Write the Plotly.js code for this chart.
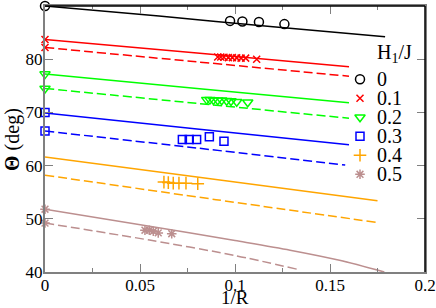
<!DOCTYPE html>
<html><head><meta charset="utf-8">
<script src="https://cdn.plot.ly/plotly-3.0.1.min.js"></script>
<style>html,body{margin:0;padding:0;background:#fff}#c{width:436px;height:308px}</style>
</head><body><div id="c"></div>
<script>
// ---- data ----
const h1Labels = ['0', '0.1', '0.2', '0.3', '0.4', '0.5'];
const colors = ['#000000', '#ff0000', '#00ff00', '#0000ff', '#ffa500', '#bc8f8f'];
const symbols = ['circle-open', 'x-thin-open', 'triangle-down-open', 'square-open', 'cross-thin-open', 'asterisk-open'];

// simulation points (1/R, Theta)
const simX0 = [0, 0.0974, 0.1039, 0.1126, 0.126];
const simY0 = [90, 87.2, 87.1, 87.0, 86.6];
const simX1 = [0, 0, 0.0909, 0.0925, 0.0942, 0.0965, 0.0986, 0.1009, 0.1032, 0.1056, 0.1114];
const simY1 = [83.7, 82.2, 80.4, 80.4, 80.35, 80.3, 80.3, 80.25, 80.2, 80.2, 80.0];
const simX2 = [0, 0, 0.0851, 0.0868, 0.0886, 0.0909, 0.0930, 0.0956, 0.0979, 0.1009, 0.1067];
const simY2 = [77.2, 74.5, 72.4, 72.4, 72.35, 72.3, 72.3, 72.2, 72.15, 72.0, 71.9];
const simX3 = [0, 0, 0.0723, 0.0759, 0.0798, 0.0865, 0.0942];
const simY3 = [70.0, 66.5, 64.9, 64.9, 64.9, 65.4, 64.6];
const simX4 = [0.0626, 0.0649, 0.0675, 0.0705, 0.0742, 0.0804];
const simY4 = [56.9, 56.8, 56.7, 56.7, 56.7, 56.6];
const simX5 = [0, 0, 0.0526, 0.0549, 0.0570, 0.0596, 0.0667];
const simY5 = [51.8, 49.2, 47.85, 47.85, 47.65, 47.35, 47.2];

// theory curves: solid
const solX0 = [0, 0.06, 0.12, 0.179];   const solY0 = [90, 88.1, 86.1, 84.2];
const solX1 = [0, 0.08, 0.16];          const solY1 = [83.7, 81.15, 78.6];
const solX2 = [0, 0.08, 0.16];          const solY2 = [77.2, 74.5, 71.8];
const solX3 = [0, 0.08, 0.16];          const solY3 = [69.9, 66.9, 63.9];
const solX4 = [0, 0.09, 0.175];         const solY4 = [61.6, 57.4, 53.4];
const solX5 = [0, 0.055, 0.1, 0.129, 0.155, 0.1786]; const solY5 = [51.8, 48.6, 45.9, 44.1, 42.2, 40.0];
// theory curves: dashed
const dasX1 = [0, 0.08, 0.16];          const dasY1 = [82.2, 79.5, 76.8];
const dasX2 = [0, 0.08, 0.16];          const dasY2 = [74.5, 71.7, 68.9];
const dasX3 = [0, 0.08, 0.158];         const dasY3 = [66.5, 63.3, 60.1];
const dasX4 = [0, 0.09, 0.175];         const dasY4 = [58.2, 53.6, 49.3];
const dasX5 = [0, 0.055, 0.1, 0.133];   const dasY5 = [49.2, 46.0, 43.1, 40.5];

const xTicks = [0, 0.05, 0.1, 0.15, 0.2];
const xTickText = ['0', '0.05', '0.1', '0.15', '0.2'];
const yTicks = [40, 50, 60, 70, 80, 90];

// ---- build ----
const solids = [[solX0, solY0], [solX1, solY1], [solX2, solY2], [solX3, solY3], [solX4, solY4], [solX5, solY5]];
const dashes = [null, [dasX1, dasY1], [dasX2, dasY2], [dasX3, dasY3], [dasX4, dasY4], [dasX5, dasY5]];
const sims = [[simX0, simY0], [simX1, simY1], [simX2, simY2], [simX3, simY3], [simX4, simY4], [simX5, simY5]];
const msize = [9, 7, 9, 8, 9, 8];

const traces = [];
solids.forEach((s, i) => traces.push({x: s[0], y: s[1], mode: 'lines', line: {color: colors[i], width: 1.5, shape: 'spline', smoothing: 0.8}, showlegend: false}));
dashes.forEach((s, i) => { if (s) traces.push({x: s[0], y: s[1], mode: 'lines', line: {color: colors[i], width: 1.5, dash: '9px,4px', shape: 'spline', smoothing: 0.8}, showlegend: false}); });
sims.forEach((s, i) => traces.push({x: s[0], y: s[1], mode: 'markers', cliponaxis: false,
  marker: {symbol: symbols[i], size: msize[i], color: colors[i], line: {color: colors[i], width: 1.5}}, showlegend: false}));

// manual legend on a pixel-like overlay axis
const legX = 360, legTextX = 375, legY0 = 79.3, legDy = 19;
const legYs = h1Labels.map((_, i) => legY0 + i * legDy);
h1Labels.forEach((lab, i) => traces.push({x: [legX], y: [legYs[i]], xaxis: 'x2', yaxis: 'y2', mode: 'markers', cliponaxis: false,
  marker: {symbol: symbols[i], size: msize[i], color: colors[i], line: {color: colors[i], width: 1.5}}, showlegend: false}));

const font = 'Liberation Serif';
const annotations = h1Labels.map((lab, i) => ({x: legTextX, y: legYs[i], xref: 'x2', yref: 'y2', text: lab, showarrow: false,
  xanchor: 'left', yanchor: 'middle', font: {family: font, size: 20, color: '#000'}}));
annotations.push({x: legTextX, y: 53, xref: 'x2', yref: 'y2', text: 'H<sub>1</sub>/J', showarrow: false, xanchor: 'left', yanchor: 'middle', font: {family: font, size: 20, color: '#000'}});
annotations.push({x: 0.5, y: -0.094, xref: 'paper', yref: 'paper', text: '1/R', showarrow: false, xanchor: 'center', yanchor: 'middle', font: {family: font, size: 19, color: '#000'}});
annotations.push({x: -0.087, y: 0.5, xref: 'paper', yref: 'paper', text: '<b>Θ</b> (deg)', textangle: -90, showarrow: false, xanchor: 'center', yanchor: 'middle', font: {family: font, size: 20, color: '#000'}});

const layout = {
  width: 436, height: 308,
  margin: {l: 45, r: 11, t: 6, b: 36},
  paper_bgcolor: '#fff', plot_bgcolor: '#fff',
  showlegend: false,
  font: {family: font, size: 17, color: '#000'},
  xaxis: {range: [0, 0.2], tickvals: xTicks, ticktext: xTickText, ticks: 'inside', ticklen: 8, tickwidth: 1, tickcolor: '#808080',
    showgrid: false, zeroline: false, showline: true, linecolor: '#808080', linewidth: 2, mirror: 'ticks',
    ticklabelstandoff: -3,
    minor: {dtick: 0.025, ticks: 'inside', ticklen: 4, tickcolor: '#808080', showgrid: false},
    tickfont: {family: font, size: 17, color: '#000'}},
  yaxis: {range: [40, 90], tickvals: yTicks, ticks: 'inside', ticklen: 8, tickwidth: 1, tickcolor: '#808080',
    showgrid: false, zeroline: false, showline: true, linecolor: '#808080', linewidth: 2, mirror: 'ticks',
    ticklabelstandoff: -3,
    tickfont: {family: font, size: 17, color: '#000'}},
  xaxis2: {overlaying: 'x', range: [45, 425], visible: false, fixedrange: true},
  yaxis2: {overlaying: 'y', range: [272, 6], visible: false, fixedrange: true},
  shapes: [
    {type: 'line', xref: 'paper', yref: 'paper', x0: 0, x1: 1, y0: 1, y1: 1, line: {color: '#000', width: 1.5}, layer: 'above'},
    {type: 'line', xref: 'paper', yref: 'paper', x0: 1, x1: 1, y0: 0, y1: 1, line: {color: '#000', width: 1.5}, layer: 'above'}
  ],
  annotations: annotations
};
Plotly.newPlot('c', traces, layout, {displayModeBar: false, staticPlot: true});
</script></body></html>
